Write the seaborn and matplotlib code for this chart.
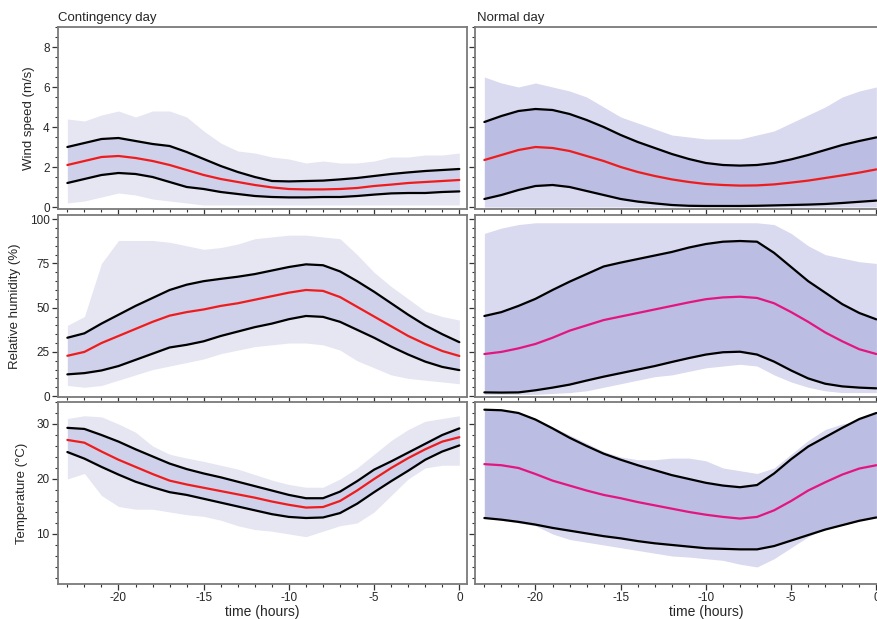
import pandas as pd
import matplotlib.pyplot as plt
import seaborn as sns
from matplotlib.ticker import MultipleLocator, NullFormatter

# hours before the event
hours = list(range(-23, 1))

# wind speed (m/s) - contingency day
wind_cont_hi = [3.0, 3.2, 3.4, 3.45, 3.3, 3.15, 3.05, 2.75, 2.4, 2.05, 1.75, 1.5, 1.3, 1.28, 1.3, 1.32, 1.38, 1.45, 1.55, 1.65, 1.73, 1.8, 1.85, 1.9]
wind_cont_med = [2.1, 2.3, 2.5, 2.55, 2.45, 2.3, 2.1, 1.85, 1.6, 1.4, 1.25, 1.1, 0.98, 0.9, 0.88, 0.88, 0.9, 0.95, 1.05, 1.12, 1.2, 1.25, 1.3, 1.35]
wind_cont_lo = [1.2, 1.4, 1.6, 1.7, 1.65, 1.5, 1.25, 1.0, 0.9, 0.75, 0.65, 0.55, 0.5, 0.48, 0.48, 0.5, 0.5, 0.55, 0.62, 0.68, 0.7, 0.7, 0.75, 0.78]
wind_cont_max = [4.4, 4.3, 4.6, 4.8, 4.5, 4.8, 4.8, 4.5, 3.8, 3.2, 2.8, 2.7, 2.5, 2.4, 2.2, 2.3, 2.2, 2.2, 2.3, 2.5, 2.5, 2.6, 2.6, 2.7]
wind_cont_min = [0.2, 0.3, 0.5, 0.7, 0.6, 0.4, 0.3, 0.2, 0.1, 0.1, 0.1, 0.1, 0.1, 0.1, 0.1, 0.1, 0.1, 0.1, 0.1, 0.1, 0.1, 0.1, 0.1, 0.1]

# wind speed (m/s) - normal day
wind_norm_hi = [4.25, 4.55, 4.8, 4.9, 4.85, 4.65, 4.35, 4.0, 3.6, 3.25, 2.95, 2.65, 2.4, 2.2, 2.1, 2.07, 2.1, 2.2, 2.38, 2.6, 2.85, 3.1, 3.3, 3.48]
wind_norm_med = [2.35, 2.6, 2.85, 3.0, 2.95, 2.8, 2.55, 2.3, 2.0, 1.75, 1.55, 1.38, 1.25, 1.15, 1.1, 1.07, 1.08, 1.13, 1.22, 1.32, 1.45, 1.58, 1.72, 1.88]
wind_norm_lo = [0.4, 0.6, 0.85, 1.05, 1.1, 1.0, 0.8, 0.6, 0.4, 0.27, 0.18, 0.1, 0.06, 0.05, 0.05, 0.05, 0.06, 0.08, 0.1, 0.12, 0.15, 0.2, 0.26, 0.32]
wind_norm_max = [6.5, 6.2, 6.0, 6.2, 6.0, 5.8, 5.5, 5.0, 4.5, 4.2, 3.9, 3.6, 3.5, 3.4, 3.4, 3.4, 3.6, 3.8, 4.2, 4.6, 5.0, 5.5, 5.8, 6.0]
wind_norm_min = [0.0, 0.0, 0.0, 0.0, 0.0, 0.0, 0.0, 0.0, 0.0, 0.0, 0.0, 0.0, 0.0, 0.0, 0.0, 0.0, 0.0, 0.0, 0.0, 0.0, 0.0, 0.0, 0.0, 0.0]

# relative humidity (%) - contingency day
hum_cont_hi = [33, 35.5, 41, 46, 51, 55.5, 60, 63, 65, 66.3, 67.5, 69, 71, 73, 74.5, 74, 70.5, 65, 59, 52.5, 46, 40, 35, 30.5]
hum_cont_med = [22.8, 25, 30, 34, 38, 42, 45.5, 47.5, 49, 51, 52.5, 54.5, 56.5, 58.5, 60, 59.5, 56, 50.5, 45, 39.5, 34, 29.5, 25.5, 22.7]
hum_cont_lo = [12.3, 13, 14.5, 17, 20.5, 24, 27.5, 29, 31, 34, 36.5, 39, 41, 43.5, 45.3, 44.8, 42, 37.5, 33, 28, 23.5, 19.5, 16.5, 14.7]
hum_cont_max = [40, 45, 75, 88, 88, 88, 87, 85, 83, 84, 86, 89, 90, 91, 91, 90, 89, 80, 70, 62, 55, 48, 45, 43]
hum_cont_min = [6, 5, 6, 9, 12, 15, 17, 19, 21, 24, 26, 28, 29, 30, 30, 29, 26, 20, 16, 12, 10, 9, 8, 7]

# relative humidity (%) - normal day
hum_norm_hi = [45.3, 47.5, 51, 55, 60, 64.7, 69, 73.3, 75.5, 77.5, 79.5, 81.5, 84, 86, 87.3, 87.7, 87.3, 81, 73, 65, 58.5, 52, 47, 43.4]
hum_norm_med = [23.8, 25, 27, 29.5, 33, 37, 40, 43, 45, 47, 49, 51, 53, 54.8, 55.8, 56.2, 55.5, 52.5, 47.5, 42, 36, 31, 26.5, 23.8]
hum_norm_lo = [2.1, 2, 2.1, 3.3, 4.8, 6.5, 8.8, 11, 13, 15, 17, 19.3, 21.5, 23.5, 24.8, 25.1, 23.5, 19.5, 14.5, 10, 7, 5.5, 4.8, 4.4]
hum_norm_max = [92, 95, 97, 98, 98, 98, 98, 98, 98, 98, 98, 98, 98, 98, 98, 98, 98, 97, 92, 85, 80, 78, 76, 75]
hum_norm_min = [1, 1, 1, 1, 1.5, 2, 3, 5, 7, 9, 11, 12, 14, 16, 17, 18, 17, 12, 8, 5, 3, 2, 2, 2]

# temperature (C) - contingency day
temp_cont_hi = [29.3, 29.1, 28.0, 26.8, 25.4, 24.1, 22.8, 21.8, 21.0, 20.3, 19.5, 18.7, 17.9, 17.1, 16.5, 16.5, 17.7, 19.6, 21.7, 23.2, 24.8, 26.4, 28.0, 29.2]
temp_cont_med = [27.1, 26.6, 25.0, 23.5, 22.2, 20.9, 19.7, 19.0, 18.4, 17.8, 17.2, 16.6, 15.9, 15.3, 14.8, 14.9, 16.0, 17.9, 20.0, 22.0, 23.8, 25.4, 26.8, 27.6]
temp_cont_lo = [24.9, 23.7, 22.2, 20.8, 19.5, 18.5, 17.6, 17.1, 16.4, 15.7, 15.0, 14.3, 13.6, 13.1, 12.9, 13.0, 13.8, 15.5, 17.6, 19.6, 21.5, 23.5, 25.0, 26.1]
temp_cont_max = [31, 31.5, 31.3, 30, 28.5, 26, 24.5, 23.8, 23.2, 22.5, 21.8, 20.8, 19.8, 19, 18.5, 18.5, 20, 22, 24.5, 27, 29, 30.5, 31, 31.5]
temp_cont_min = [20, 21, 17, 15, 14.5, 14.5, 14, 13.5, 13.2, 12.5, 11.5, 10.8, 10.5, 10, 9.5, 10.5, 11.5, 12, 14, 17, 20, 22, 22.5, 22.5]

# temperature (C) - normal day
temp_norm_hi = [32.6, 32.5, 32.0, 30.8, 29.2, 27.5, 26.0, 24.6, 23.5, 22.5, 21.6, 20.7, 20.0, 19.3, 18.8, 18.5, 18.9, 21.0, 23.6, 25.9, 27.6, 29.3, 30.9, 32.0]
temp_norm_med = [22.7, 22.5, 22.0, 20.9, 19.7, 18.8, 17.9, 17.1, 16.5, 15.8, 15.2, 14.6, 14.0, 13.5, 13.1, 12.8, 13.1, 14.3, 16.0, 17.9, 19.4, 20.8, 21.9, 22.5]
temp_norm_lo = [12.9, 12.6, 12.2, 11.7, 11.1, 10.6, 10.1, 9.6, 9.2, 8.7, 8.3, 8.0, 7.7, 7.4, 7.3, 7.2, 7.2, 7.8, 8.8, 9.8, 10.8, 11.6, 12.4, 13.0]
temp_norm_max = [31.5, 32, 32, 31, 29.5, 28, 26.5, 25, 24, 23.5, 23.5, 23.8, 23.8, 23.3, 22, 21.5, 21, 22, 24.5, 27, 29, 30, 30.5, 30.5]
temp_norm_min = [13, 12.5, 12, 11.5, 10, 9, 8.5, 8, 7.5, 7, 6.5, 6, 5.8, 5.5, 5.2, 4.5, 4, 5.5, 7.5, 9.5, 11, 12, 12.5, 13]

sns.set_style("ticks")
plt.rcParams['font.family'] = ['Liberation Sans', 'DejaVu Sans']
plt.rcParams['axes.unicode_minus'] = False

fig = plt.figure(figsize=(8.77, 6.19), dpi=100)

W, H = 877, 619
col_left = [58, 475]
row_top = [27, 215, 402]
ax_w, ax_h = 409, 182

rows = [
    dict(label='Wind speed (m/s)', ylim=(-0.1, 9.0), major=2, minor=0.5,
         data=[(wind_cont_min, wind_cont_max, wind_cont_lo, wind_cont_med, wind_cont_hi, '#ee1c1c'),
               (wind_norm_min, wind_norm_max, wind_norm_lo, wind_norm_med, wind_norm_hi, '#ee1c1c')]),
    dict(label='Relative humidity (%)', ylim=(-0.5, 102.4), major=25, minor=5,
         data=[(hum_cont_min, hum_cont_max, hum_cont_lo, hum_cont_med, hum_cont_hi, '#ee1c1c'),
               (hum_norm_min, hum_norm_max, hum_norm_lo, hum_norm_med, hum_norm_hi, '#e3157f')]),
    dict(label='Temperature (\u00b0C)', ylim=(0.9, 34.0), major=10, minor=2,
         data=[(temp_cont_min, temp_cont_max, temp_cont_lo, temp_cont_med, temp_cont_hi, '#ee1c1c'),
               (temp_norm_min, temp_norm_max, temp_norm_lo, temp_norm_med, temp_norm_hi, '#e3157f')]),
]

cloud_outer = ['#e6e6f3', '#d9d9ef']
cloud_inner = ['#cfd0e9', '#bbbde2']

for r, row in enumerate(rows):
    for c in range(2):
        x0 = col_left[c] / W
        y0 = 1 - (row_top[r] + ax_h) / H
        ax = fig.add_axes([x0, y0, ax_w / W, ax_h / H])
        mn, mx, lo, med, hi, mcol = row['data'][c]

        # spread of the individual days
        ax.fill_between(hours, mn, mx, color=cloud_outer[c], lw=0)
        ax.fill_between(hours, lo, hi, color=cloud_inner[c], lw=0)

        df = pd.DataFrame({
            'hour': hours * 3,
            'value': lo + med + hi,
            'stat': ['p5'] * 24 + ['median'] * 24 + ['p95'] * 24,
        })
        sns.lineplot(data=df, x='hour', y='value', hue='stat',
                     palette={'p5': 'black', 'median': mcol, 'p95': 'black'},
                     legend=False, ax=ax, lw=1.6)
        for ln in ax.lines:
            ln.set_solid_joinstyle('round')

        ax.set_xlim(-23.55, 0.45)
        ax.set_ylim(*row['ylim'])
        ax.xaxis.set_major_locator(MultipleLocator(5))
        ax.xaxis.set_minor_locator(MultipleLocator(1))
        ax.yaxis.set_major_locator(MultipleLocator(row['major']))
        ax.yaxis.set_minor_locator(MultipleLocator(row['minor']))
        ax.tick_params(which='major', length=4, width=0.9, color='#333333', labelsize=8.5, pad=2)
        ax.tick_params(which='minor', length=2.2, width=0.8, color='#333333')
        for s in ax.spines.values():
            s.set_color('#7a7a7a')
            s.set_linewidth(1.3)

        ax.set_xlabel('')
        ax.set_ylabel('')
        if c == 0:
            ax.set_ylabel(row['label'], fontsize=9.5, labelpad=6)
        else:
            ax.yaxis.set_major_formatter(NullFormatter())
        if r < 2:
            ax.xaxis.set_major_formatter(NullFormatter())
        else:
            ax.set_xlabel('time (hours)', fontsize=10)
            if c == 1:
                ax.xaxis.set_label_coords(0.565, -0.115)
            else:
                ax.xaxis.set_label_coords(0.5, -0.115)

fig.text(58 / W, 1 - 18 / H, 'Contingency day', fontsize=9.5, va='center', ha='left')
fig.text(477 / W, 1 - 18 / H, 'Normal day', fontsize=9.5, va='center', ha='left')

fig.savefig('out.png', dpi=100)
